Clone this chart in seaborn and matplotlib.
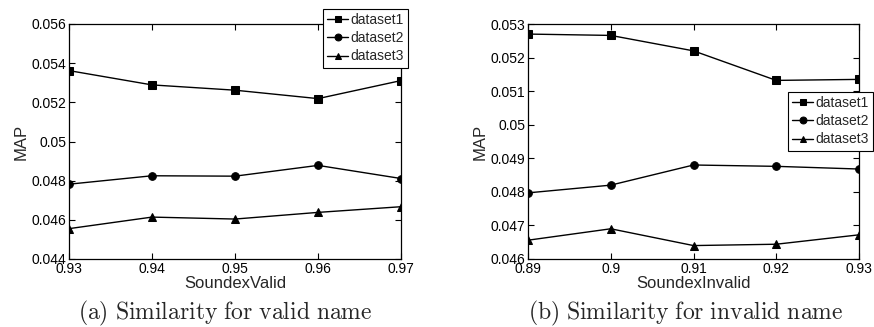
import matplotlib
matplotlib.use("Agg")
import matplotlib.pyplot as plt
import seaborn as sns
import pandas as pd

sns.set_theme(style="white")
plt.rcParams['font.family'] = ['Liberation Sans', 'DejaVu Sans']
plt.rcParams['mathtext.fontset'] = 'cm'

series = ["dataset1", "dataset2", "dataset3"]

x_valid = [0.93, 0.94, 0.95, 0.96, 0.97]
valid_d1 = [0.05362, 0.05289, 0.05262, 0.05219, 0.05311]
valid_d2 = [0.04782, 0.04825, 0.04823, 0.04878, 0.04811]
valid_d3 = [0.04555, 0.04614, 0.04604, 0.04638, 0.04667]

x_invalid = [0.89, 0.90, 0.91, 0.92, 0.93]
invalid_d1 = [0.05270, 0.05266, 0.05220, 0.05132, 0.05135]
invalid_d2 = [0.04797, 0.04820, 0.04880, 0.04876, 0.04868]
invalid_d3 = [0.04656, 0.04690, 0.04640, 0.04644, 0.04672]

valid_xticks = ["0.93", "0.94", "0.95", "0.96", "0.97"]
valid_yticks = [0.044, 0.046, 0.048, 0.05, 0.052, 0.054, 0.056]
invalid_xticks = ["0.89", "0.9", "0.91", "0.92", "0.93"]
invalid_yticks = [0.046, 0.047, 0.048, 0.049, 0.05, 0.051, 0.052, 0.053]

caption_a = "(a) Similarity for valid name"
caption_b = "(b) Similarity for invalid name"


def long_df(x, ys):
    rows = []
    for name, vals in zip(series, ys):
        for xi, yi in zip(x, vals):
            rows.append({"x": xi, "MAP": yi, "series": name})
    return pd.DataFrame(rows)


df_valid = long_df(x_valid, [valid_d1, valid_d2, valid_d3])
df_invalid = long_df(x_invalid, [invalid_d1, invalid_d2, invalid_d3])

fig = plt.figure(figsize=(8.74, 3.27), dpi=100)
ax1 = fig.add_axes([69 / 874, 1 - 259 / 327, 332 / 874, 235 / 327])
ax2 = fig.add_axes([528 / 874, 1 - 259 / 327, 331 / 874, 235 / 327])

markers = {"dataset1": "s", "dataset2": "o", "dataset3": "^"}
palette = {s: "black" for s in series}


def draw(ax, df, xticks, xlabels, yticks, ylabels, xlabel):
    sns.lineplot(data=df, x="x", y="MAP", hue="series", style="series",
                 markers=markers, dashes=False, palette=palette, ax=ax,
                 markersize=5.5, linewidth=1.0, markeredgecolor="black",
                 legend=True)
    ax.set_xlim(xticks[0], xticks[-1])
    ax.set_ylim(yticks[0], yticks[-1])
    ax.set_xticks(xticks)
    ax.set_xticklabels(xlabels)
    ax.set_yticks(yticks)
    ax.set_yticklabels(ylabels)
    ax.tick_params(direction="in", length=4, width=0.8, top=True, right=True,
                   bottom=True, left=True, labelsize=10, colors="black", pad=2)
    ax.set_xlabel(xlabel, fontsize=12, labelpad=0)
    ax.set_ylabel("MAP", fontsize=12, labelpad=2)
    for sp in ax.spines.values():
        sp.set_color("black")
        sp.set_linewidth(0.9)
        sp.set_visible(True)
    ax.grid(False)


draw(ax1, df_valid, x_valid, valid_xticks, valid_yticks,
     ["0.044", "0.046", "0.048", "0.05", "0.052", "0.054", "0.056"], "SoundexValid")
draw(ax2, df_invalid, x_invalid, invalid_xticks, invalid_yticks,
     ["0.046", "0.047", "0.048", "0.049", "0.05", "0.051", "0.052", "0.053"], "SoundexInvalid")

for ax, bbox in [(ax1, (408 / 874, 1 - 9 / 327)), (ax2, (873 / 874, 1 - 92 / 327))]:
    leg = ax.legend(loc="upper right", bbox_to_anchor=bbox,
                    bbox_transform=fig.transFigure, frameon=True, fancybox=False,
                    fontsize=10, handlelength=1.5, handletextpad=0.15,
                    borderpad=0.3, labelspacing=0.3, borderaxespad=0,
                    markerscale=0.9)
    leg.get_frame().set_edgecolor("black")
    leg.get_frame().set_linewidth(0.8)
    leg.get_frame().set_alpha(1)


def mt(s):
    return r"$\mathrm{" + s.replace(" ", r"\ ") + "}$"


fig.text(225 / 874, 1 - 313 / 327, mt(caption_a), fontsize=17,
         ha="center", va="center")
fig.text(686 / 874, 1 - 313 / 327, mt(caption_b), fontsize=17,
         ha="center", va="center")

fig.savefig("out.png", dpi=100)
